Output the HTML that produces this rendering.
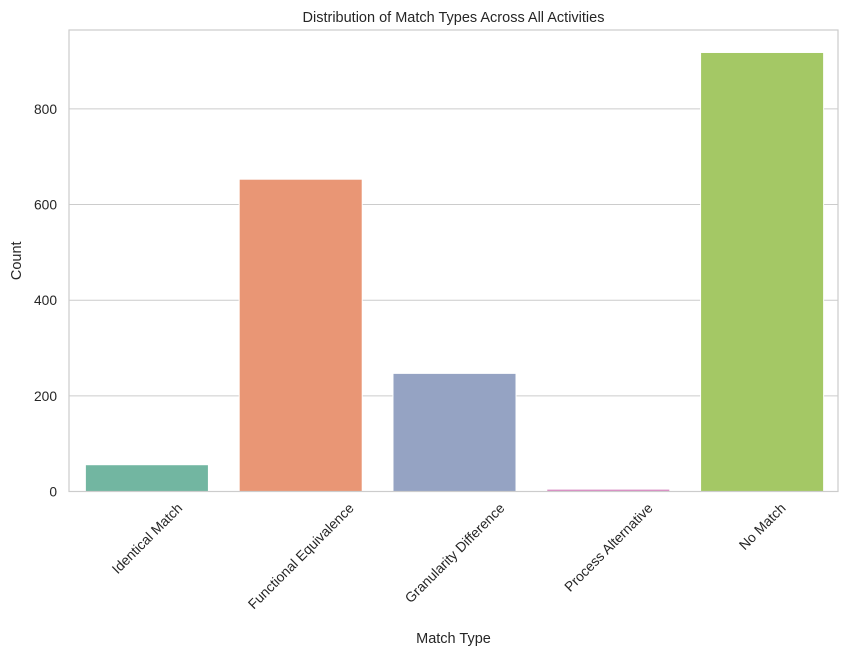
<!DOCTYPE html>
<html><head><meta charset="utf-8"><style>
body{margin:0;background:#fff;font-family:"Liberation Sans","DejaVu Sans",sans-serif;}
</style></head><body>
<svg id="chart" width="854" height="657" xmlns="http://www.w3.org/2000/svg" font-family="Liberation Sans, DejaVu Sans, sans-serif"></svg>
<script>
const categories=["Identical Match","Functional Equivalence","Granularity Difference","Process Alternative","No Match"];
const counts=[56,653,247,5,918];
const colors=["#72b6a1","#e99675","#95a3c3","#da8bc3","#a4c865"];
const yTicks=[0,200,400,600,800];
const L=69,R=838,T=30,B=491.5,yMax=965;
const svg=document.getElementById('chart');
const NS="http://www.w3.org/2000/svg";
function y(v){return B-(v/yMax)*(B-T);}
const band=(R-L)/categories.length;
function x(i){return L+band*i;}
function mk(tag,attrs,parent){const e=document.createElementNS(NS,tag);for(const k in attrs)e.setAttribute(k,attrs[k]);(parent||svg).appendChild(e);return e;}
yTicks.forEach(t=>{
 const g=mk('line',{x1:L,x2:R,y1:y(t),y2:y(t),stroke:'#cccccc','stroke-width':1});
 
 
 const tx=mk('text',{x:L-12,y:y(t)+5,'text-anchor':'end','font-size':13.8,fill:'#262626'});
 tx.textContent=t;
 
 
});
categories.forEach((c,i)=>{
 const bw=band*0.8;
 const bx=x(i)+band*0.1+1;
 const r=mk('rect',{x:bx,y:y(counts[i]),width:bw,height:B-y(counts[i]),fill:colors[i],stroke:'#fff','stroke-width':1});
 
 
 const cx=x(i)+band/2+1;
 const t=mk('text',{x:cx,y:0,'text-anchor':'middle','font-size':13.8,fill:'#262626'});
 t.textContent=c;
 const w=t.getComputedTextLength();
 const cy=B+9+(w+14)*0.7071/2;
 t.setAttribute('y',cy+5);
 t.setAttribute('transform',`rotate(-45 ${cx} ${cy})`);
 
 
});
const fr=mk('rect',{x:L,y:T,width:R-L,height:B-T,fill:'none',stroke:'#cccccc','stroke-width':1.2});


const title=mk('text',{x:(L+R)/2,y:22,'text-anchor':'middle','font-size':14.5,fill:'#262626'});
title.textContent="Distribution of Match Types Across All Activities";


const xl=mk('text',{x:(L+R)/2,y:643,'text-anchor':'middle','font-size':14.5,fill:'#262626'});
xl.textContent="Match Type";


const yl=mk('text',{x:21,y:(T+B)/2,'text-anchor':'middle','font-size':14.5,fill:'#262626',transform:`rotate(-90 21 ${(T+B)/2})`});
yl.textContent="Count";


</script>
</body></html>
